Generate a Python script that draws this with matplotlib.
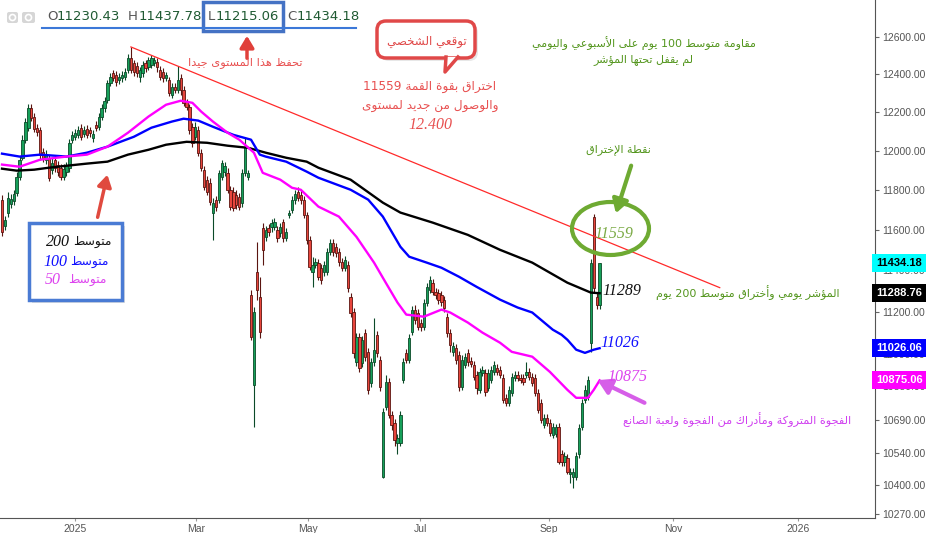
import re
import numpy as np
import matplotlib
matplotlib.use("Agg")
import matplotlib.pyplot as plt
import matplotlib.transforms as mtrans
from matplotlib.patches import Rectangle, Ellipse, FancyBboxPatch, Polygon, FancyArrowPatch, Circle
from matplotlib.ticker import FixedLocator, FuncFormatter, NullLocator

W, H = 933, 533

# daily candles (trading-day index 0 = late Nov 2024)
opens = [11751, 11620, 11686, 11731, 11746, 11786, 11867, 11964, 12057, 12119,
         12223, 12177, 12119, 12108, 11995, 11954, 11964, 11903, 11954, 11929,
         11913, 11867, 11893, 11913, 12057, 12072, 12082, 12119, 12087, 12114,
         12108, 12067, 12135, 12124, 12177, 12223, 12265, 12355, 12408, 12397,
         12370, 12381, 12386, 12424, 12488, 12461, 12445, 12386, 12408, 12461,
         12440, 12451, 12461, 12467, 12424, 12413, 12381, 12370, 12291, 12333,
         12317, 12381, 12317, 12255, 12229, 12124, 12072, 12108, 11990, 11903,
         11852, 11836, 11686, 11751, 11751, 11867, 11893, 11887, 11801, 11791,
         11776, 11766, 11736, 11887, 11867, 11282, 10854, 11393, 11272, 11610,
         11565, 11610, 11615, 11615, 11600, 11585, 11641, 11560, 11676, 11701,
         11751, 11791, 11776, 11751, 11676, 11550, 11393, 11428, 11438, 11413,
         11393, 11393, 11491, 11535, 11516, 11491, 11442, 11413, 11428, 11272,
         11200, 10962, 11080, 10957, 11100, 11009, 10864, 10962, 11090, 10972,
         10436, 10753, 10868, 10716, 10680, 10589, 10589, 10878, 11004, 10972,
         11104, 11210, 11196, 11148, 11128, 11244, 11306, 11340, 11296, 11292,
         11282, 11258, 11176, 11100, 11009, 11028, 10995, 10845, 10948, 11004,
         10967, 10948, 10901, 10831, 10911, 10911, 10840, 10878, 10915, 10934,
         10925, 10887, 10794, 10771, 10817, 10887, 10901, 10887, 10887, 10901,
         10915, 10892, 10887, 10817, 10771, 10671, 10702, 10680, 10625, 10630,
         10662, 10535, 10503, 10521, 10445, 10436, 10436, 10535, 10662, 10785,
         10799, 11052, 11666, 11272, 11230.43]
highs = [11776, 11671, 11791, 11781, 11801, 11893, 11975, 12082, 12171, 12244,
         12244, 12197, 12140, 12124, 12015, 12005, 11980, 11964, 11980, 11949,
         11934, 11934, 11944, 12062, 12103, 12114, 12129, 12140, 12129, 12135,
         12124, 12108, 12156, 12197, 12244, 12281, 12370, 12408, 12424, 12419,
         12408, 12419, 12435, 12509, 12546, 12477, 12467, 12440, 12472, 12477,
         12493, 12504, 12493, 12488, 12445, 12435, 12413, 12386, 12355, 12355,
         12445, 12403, 12339, 12270, 12244, 12145, 12151, 12129, 12010, 11923,
         11872, 11862, 11761, 11771, 11903, 11954, 11944, 11913, 11821, 11816,
         11801, 11786, 11908, 12072, 11903, 11306, 11224, 11540, 11369, 11636,
         11620, 11630, 11656, 11661, 11620, 11636, 11656, 11610, 11701, 11771,
         11801, 11816, 11801, 11771, 11691, 11570, 11467, 11462, 11457, 11433,
         11447, 11511, 11555, 11555, 11535, 11511, 11462, 11472, 11447, 11292,
         11220, 11100, 11100, 11085, 11119, 11028, 10981, 11172, 11109, 10990,
         10748, 10901, 10887, 10734, 10698, 10630, 10734, 10981, 11023, 11095,
         11229, 11234, 11215, 11167, 11263, 11340, 11374, 11359, 11316, 11311,
         11301, 11277, 11196, 11119, 11057, 11047, 11014, 10995, 11004, 11023,
         10986, 10967, 10920, 10934, 10943, 10929, 10929, 10943, 10967, 10953,
         10943, 10906, 10813, 10849, 10911, 10920, 10920, 10906, 10906, 10962,
         10934, 10911, 10906, 10836, 10790, 10720, 10720, 10698, 10680, 10675,
         10680, 10553, 10544, 10539, 10472, 10472, 10544, 10675, 10790, 10854,
         10897, 11457, 11681, 11292, 11437.78]
lows = [11570, 11600, 11666, 11711, 11726, 11771, 11852, 11954, 12041, 12103,
        12156, 12098, 12077, 11954, 11944, 11934, 11847, 11882, 11893, 11872,
        11852, 11852, 11872, 11893, 12041, 12057, 12067, 12057, 12072, 12067,
        12072, 12046, 12103, 12108, 12161, 12203, 12249, 12339, 12365, 12339,
        12349, 12360, 12370, 12408, 12408, 12392, 12386, 12360, 12386, 12413,
        12424, 12435, 12445, 12413, 12370, 12360, 12365, 12286, 12275, 12302,
        12302, 12291, 12234, 12213, 12087, 12021, 12057, 11975, 11898, 11801,
        11776, 11726, 11550, 11696, 11736, 11852, 11872, 11786, 11701, 11696,
        11706, 11701, 11716, 11872, 11852, 11066, 10662, 11258, 11076, 11428,
        11545, 11570, 11590, 11600, 11540, 11565, 11540, 11545, 11661, 11686,
        11731, 11746, 11731, 11661, 11531, 11403, 11320, 11413, 11354, 11335,
        11374, 11379, 11477, 11472, 11467, 11423, 11398, 11398, 11296, 11176,
        10981, 10943, 10915, 10939, 10967, 10813, 10845, 10943, 10986, 10826,
        10431, 10739, 10702, 10648, 10575, 10535, 10575, 10864, 10957, 10957,
        11090, 11143, 11114, 11109, 11114, 11229, 11292, 11282, 11263, 11239,
        11229, 11200, 11080, 11009, 10990, 10953, 10826, 10831, 10934, 10943,
        10939, 10878, 10813, 10817, 10897, 10803, 10826, 10864, 10901, 10901,
        10887, 10771, 10757, 10757, 10803, 10873, 10873, 10864, 10854, 10887,
        10878, 10849, 10803, 10725, 10680, 10657, 10666, 10620, 10611, 10615,
        10490, 10485, 10485, 10445, 10409, 10386, 10422, 10521, 10648, 10771,
        10785, 11009, 11296, 11215, 11215.06]
closes = [11590, 11651, 11761, 11756, 11781, 11867, 11954, 12057, 12151, 12223,
          12171, 12114, 12098, 11980, 11964, 11985, 11862, 11939, 11913, 11893,
          11867, 11908, 11929, 12041, 12082, 12093, 12108, 12072, 12108, 12082,
          12093, 12087, 12119, 12177, 12223, 12260, 12355, 12386, 12381, 12360,
          12386, 12397, 12413, 12488, 12424, 12413, 12408, 12424, 12451, 12435,
          12477, 12488, 12477, 12440, 12386, 12381, 12397, 12302, 12333, 12317,
          12370, 12317, 12249, 12229, 12108, 12041, 12124, 11990, 11913, 11816,
          11791, 11741, 11736, 11716, 11887, 11939, 11923, 11801, 11716, 11711,
          11726, 11716, 11887, 12021, 11887, 11080, 11200, 11306, 11104, 11501,
          11600, 11590, 11636, 11641, 11560, 11615, 11560, 11590, 11686, 11751,
          11781, 11761, 11751, 11676, 11550, 11418, 11428, 11442, 11369, 11354,
          11428, 11491, 11535, 11491, 11486, 11442, 11413, 11452, 11316, 11196,
          11004, 11080, 10934, 11066, 10986, 10831, 10962, 11019, 11004, 10845,
          10730, 10868, 10716, 10671, 10602, 10611, 10716, 10962, 10972, 11076,
          11210, 11162, 11128, 11128, 11244, 11320, 11354, 11296, 11282, 11258,
          11248, 11220, 11100, 11042, 11038, 10972, 10845, 10972, 10986, 10962,
          10953, 10892, 10840, 10915, 10925, 10822, 10911, 10925, 10948, 10915,
          10901, 10785, 10771, 10831, 10892, 10901, 10887, 10878, 10868, 10915,
          10892, 10864, 10817, 10739, 10693, 10702, 10680, 10634, 10662, 10660,
          10503, 10503, 10526, 10458, 10454, 10454, 10526, 10657, 10771, 10831,
          10878, 11438, 11316, 11234, 11434.18]

# moving averages, read at sample points (trading-day index, value)
ma200_idx = [0, 5, 11, 16, 22, 29, 36, 43, 50, 56, 63, 70, 77, 84, 90, 97, 104,
             108, 119, 130, 136, 147, 159, 170, 181, 193, 201, 204]
ma200 = [11908, 11898, 11903, 11913, 11923, 11934, 11944, 11980, 12005, 12031,
         12046, 12041, 12026, 12015, 11990, 11964, 11944, 11913, 11852, 11736,
         11686, 11636, 11575, 11501, 11438, 11340, 11292, 11289]
ma100_idx = [0, 6, 13, 22, 29, 36, 45, 51, 58, 62, 67, 72, 79, 85, 88, 90, 97,
             104, 108, 119, 125, 130, 136, 139, 145, 150, 156, 162, 170, 176,
             181, 188, 191, 193, 196, 199, 202, 204]
ma100 = [11985, 11970, 11980, 11970, 11990, 12021, 12072, 12119, 12151, 12166,
         12156, 12124, 12082, 12057, 11980, 11970, 11944, 11893, 11862, 11801,
         11751, 11666, 11516, 11467, 11438, 11413, 11369, 11320, 11258, 11220,
         11196, 11114, 11090, 11066, 11019, 11004, 11019, 11026]
ma50_idx = [0, 6, 13, 22, 29, 36, 43, 50, 56, 61, 65, 68, 72, 77, 81, 86, 89,
            95, 99, 102, 108, 115, 121, 127, 131, 135, 138, 144, 150, 153, 159,
            164, 170, 174, 181, 187, 193, 196, 200, 202, 204]
ma50 = [11929, 11918, 11954, 11970, 11980, 12021, 12093, 12177, 12239, 12260,
        12249, 12203, 12151, 12093, 12057, 11990, 11887, 11852, 11811, 11801,
        11716, 11666, 11565, 11438, 11340, 11244, 11186, 11176, 11210, 11196,
        11148, 11100, 11052, 11009, 10986, 10915, 10831, 10794, 10794, 10831,
        10875]

# falling trendline from the February top
trend_idx = [44, 245]
trend_val = [12546, 11316]

month_labels = ["2025", "Mar", "May", "Jul", "Sep", "Nov", "2026"]
month_pos = [24.9, 66.2, 104.4, 142.7, 186.7, 229.0, 271.7]
y_ticks = [10270, 10400, 10540, 10690, 10850, 11000, 11200, 11400, 11600,
           11800, 12000, 12200, 12400, 12600]

tag_vals = [11434.18, 11288.76, 11026.06, 10875.06]
tag_bg = ["#00ffff", "#000000", "#0000ff", "#ff00ff"]
tag_fg = ["#000000", "#ffffff", "#ffffff", "#ffffff"]

# --- minimal Arabic shaping (presentation forms + visual order) ---
AR_LETTERS = "ءآأؤإئابةتثجحخدذرزسشصضطظعغفقكلمنهوىي"
AR_NFORMS = [1, 2, 2, 2, 2, 4, 2, 4, 2, 4, 4, 4, 4, 4, 2, 2, 2, 2] + [4] * 15 + [2, 2, 4]
FORMS = {}
code = 0xFE80
for ch, n in zip(AR_LETTERS, AR_NFORMS):
    FORMS[ch] = [chr(code + k) for k in range(n)]
    code += n
LAM_ALEF = {"آ": 0xFEF5, "أ": 0xFEF7, "إ": 0xFEF9, "ا": 0xFEFB}


def ar(text):
    def joins_next(c):
        return c in FORMS and len(FORMS[c]) == 4
    out = []
    i = 0
    while i < len(text):
        c = text[i]
        if c not in FORMS:
            out.append(c)
            i += 1
            continue
        prev = text[i - 1] if i > 0 else ""
        link_prev = joins_next(prev)
        nxt = text[i + 1] if i + 1 < len(text) else ""
        if c == "ل" and nxt in LAM_ALEF:
            out.append(chr(LAM_ALEF[nxt] + (1 if link_prev else 0)))
            i += 2
            continue
        link_next = joins_next(c) and nxt in FORMS and len(FORMS[nxt]) > 1
        f = FORMS[c]
        if link_prev and link_next:
            g = f[3]
        elif link_prev:
            g = f[1] if len(f) > 1 else f[0]
        elif link_next:
            g = f[2]
        else:
            g = f[0]
        out.append(g)
        i += 1
    s = "".join(out)[::-1]
    return re.sub(r"[0-9.]+", lambda m: m.group(0)[::-1], s)


fig = plt.figure(figsize=(W / 100, H / 100), dpi=100)
ax = fig.add_axes([0, 15 / H, 875 / W, 518 / H])
PX = mtrans.Affine2D().scale(1, -1).translate(0, H)   # pixel coords, y down

o = np.array(opens); c = np.array(closes); hi = np.array(highs); lo = np.array(lows)
x = np.arange(len(o))
up = c >= o
for m, fc, ec in [(up, "#16a05a", "#0b4a28"), (~up, "#e8453c", "#5a1410")]:
    ax.vlines(x[m], lo[m], hi[m], color=ec, lw=0.8, zorder=2)
    ax.bar(x[m], np.abs(c - o)[m], bottom=np.minimum(o, c)[m], width=0.78,
           color=fc, edgecolor=ec, linewidth=0.6, zorder=3)

ax.plot(ma200_idx, ma200, color="black", lw=1.7, zorder=4)
ax.plot(ma100_idx, ma100, color="#0000ff", lw=1.7, zorder=4)
ax.plot(ma50_idx, ma50, color="#ff00ff", lw=1.7, zorder=4)
ax.plot(trend_idx, trend_val, color="#ff2a2a", lw=0.9, zorder=4)

ax.set_yscale("log")
ax.set_xlim(-0.68, 298.0)
ax.set_ylim(10252, 12801)
ax.yaxis.set_major_locator(FixedLocator(y_ticks))
ax.yaxis.set_major_formatter(FuncFormatter(lambda v, p: f"{v:.2f}"))
ax.yaxis.set_minor_locator(NullLocator())
ax.yaxis.tick_right()
ax.set_xticks(month_pos, month_labels)
ax.tick_params(axis="y", length=3, color="#666", labelcolor="#555", labelsize=7.5, pad=2.5)
ax.tick_params(axis="x", length=2, color="#999", labelcolor="#555", labelsize=7.5, pad=2)
for lab in ax.get_xticklabels() + ax.get_yticklabels():
    lab.set_family("Liberation Sans")
for s in ["top", "left"]:
    ax.spines[s].set_visible(False)
for s in ["right", "bottom"]:
    ax.spines[s].set_color("#555")

ytr = ax.get_yaxis_transform()
for v, bg, fg in zip(tag_vals, tag_bg, tag_fg):
    ax.text(1.001, v, f"{v:.2f}", transform=ytr, ha="left", va="center", fontsize=8,
            family="Liberation Sans", fontweight="bold", color=fg, clip_on=False, zorder=6,
            bbox=dict(boxstyle="square,pad=0.36", fc=bg, ec="none"))


def txt(xp, yp, s, color, size, family="DejaVu Sans", **kw):
    fig.text(xp / W, 1 - yp / H, s, color=color, fontsize=size, family=family,
             ha=kw.pop("ha", "center"), va="center", **kw)


def arrow(x0, y0, x1, y1, color, lw, ms=14):
    fig.add_artist(FancyArrowPatch((x0, y0), (x1, y1), transform=PX, color=color, lw=lw,
                                   arrowstyle="-|>,head_length=0.5,head_width=0.3",
                                   mutation_scale=ms))


# header with OHLC
for xp, w in [(7, 11), (22, 13)]:
    fig.add_artist(FancyBboxPatch((xp, 12), w, 11, boxstyle="round,pad=0,rounding_size=2",
                                  transform=PX, fc="#d6d6d6", ec="none"))
    fig.add_artist(Circle((xp + w / 2, 17.5), 3, transform=PX, fc="none", ec="white", lw=1.2))
for lx, letter, nx, val in [(47, "O", 57, "11230.43"), (128, "H", 139, "11437.78"),
                            (208, "L", 216, "11215.06"), (287, "C", 297, "11434.18")]:
    txt(lx, 17, letter, "#555555", 9.5, ha="left")
    txt(nx, 17, val, "#1f5a32", 9.5, ha="left")
fig.add_artist(plt.Line2D([42, 356], [28, 28], transform=PX, color="#3c78d8", lw=1.5))
fig.add_artist(Rectangle((203, 2), 80, 29, transform=PX, fill=False, ec="#4472c4", lw=2.5))
arrow(247, 61, 247, 33, "#e0403a", 2.5)
txt(245, 63, ar("تحفظ هذا المستوى جيدا"), "#e85050", 8.2)

# speech bubble
fig.add_artist(FancyBboxPatch((380, 24), 98, 37, boxstyle="round,pad=0,rounding_size=9",
                              transform=PX, fc="#bbbbbb", ec="none", alpha=0.35))
fig.add_artist(FancyBboxPatch((377, 21), 98, 37, boxstyle="round,pad=0,rounding_size=9",
                              transform=PX, fc="white", ec="#e04848", lw=2.5))
fig.add_artist(Polygon([(446, 57), (458, 57), (445, 72)], closed=True, transform=PX,
                       fc="white", ec="none"))
fig.add_artist(plt.Line2D([446, 445, 458], [57, 72, 57], transform=PX, color="#e04848", lw=2.5))
txt(427, 41, ar("توقعي الشخصي"), "#e04848", 8.6)
txt(430, 87, ar("اختراق بقوة القمة 11559"), "#e85050", 8.7)
txt(430, 105, ar("والوصول من جديد لمستوى"), "#e85050", 8.7)
txt(430, 125, "12.400", "#e85050", 11.5, family="Liberation Serif", style="italic")

# green notes
txt(644, 43, ar("مقاومة متوسط 100 يوم على الأسبوعي واليومي"), "#54961e", 8)
txt(643, 60, ar("لم يقفل تحتها المؤشر"), "#54961e", 8)
txt(618, 150, ar("نقطة الإختراق"), "#54961e", 8)
arrow(632, 163, 615, 216, "#6eaa32", 3, ms=16)
fig.add_artist(Ellipse((610.5, 228.5), 77, 53, transform=PX, fill=False, ec="#6eaa32", lw=3))
txt(614, 234, "11559", "#7aaa44", 11.5, family="Liberation Serif", style="italic")
txt(622, 291, "11289", "#111111", 11.5, family="Liberation Serif", style="italic")
txt(748, 293, ar("المؤشر يومي وأختراق متوسط 200 يوم"), "#54961e", 8)
txt(620, 343, "11026", "#1010ff", 11.5, family="Liberation Serif", style="italic")
txt(627, 377, "10875", "#dd44ee", 11.5, family="Liberation Serif", style="italic")
arrow(647, 404, 595, 379, "#d65ee8", 3, ms=16)
txt(737, 420, ar("الفجوة المتروكة ومأدراك من الفجوة ولعبة الصانع"), "#d040f0", 8.1)

# legend box for the averages
fig.add_artist(Rectangle((32, 226), 93, 77, transform=PX, fc="#999999", ec="none", alpha=0.3))
fig.add_artist(Rectangle((29, 223), 93, 77, transform=PX, fc="white", ec="#4a7bd4", lw=2.5))
for yp, num, col, nx in [(242, "200", "#111111", 58), (262, "100", "#1010ff", 55),
                         (280, "50", "#dd44ee", 53)]:
    txt(nx, yp, num, col, 11.5, family="Liberation Serif", style="italic")
    txt(nx + 34, yp, ar("متوسط"), col, 8.8)
arrow(97, 220, 108, 172, "#e04a3f", 2.5)

fig.savefig("out.png", dpi=100)
